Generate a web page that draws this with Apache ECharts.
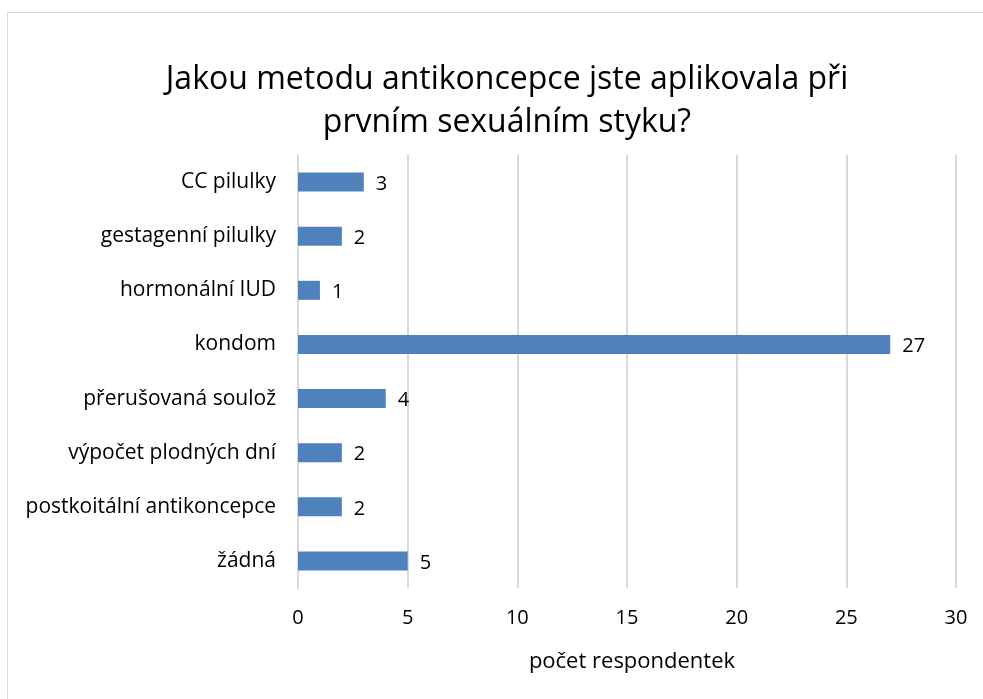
<!DOCTYPE html>
<html>
<head>
<meta charset="utf-8">
<script src="https://cdn.jsdelivr.net/npm/echarts@6/dist/echarts.min.js"></script>
<style>
    html, body { margin: 0; padding: 0; background: #fff; }
    #frame { position: absolute; left: 7px; top: 12px; width: 983px; height: 700px; border: 1px solid #d9d9d9; }
    #mychart { position: absolute; left: 0; top: 0; width: 983px; height: 699px; }
</style>
</head>
<body>
<div id="frame"></div>
<div id="mychart"></div>
<script>
var categories = ['CC pilulky', 'gestagenní pilulky', 'hormonální IUD', 'kondom', 'přerušovaná soulož', 'výpočet plodných dní', 'postkoitální antikoncepce', 'žádná'];
var counts = [3, 2, 1, 27, 4, 2, 2, 5];
var xTicks = [0, 5, 10, 15, 20, 25, 30];

var font = '"Open Sans", sans-serif';
var myChart = echarts.init(document.getElementById('mychart'));
// nahoře první kategorie -> obrátit osu
myChart.setOption({
    animation: false,
    title: [
        {
            text: 'Jakou metodu antikoncepce jste aplikovala při\nprvním sexuálním styku?',
            left: 502,
            top: 53,
            textAlign: 'center',
            textStyle: { fontFamily: font, fontSize: 32, fontWeight: 'normal', color: '#000', lineHeight: 43 }
        },
        {
            text: 'počet respondentek',
            left: 627,
            top: 646,
            textAlign: 'center',
            textStyle: { fontFamily: font, fontSize: 22, fontWeight: 'normal', color: '#000' }
        }
    ],
    grid: { left: 298, right: 27, top: 155, bottom: 111 },
    xAxis: {
        type: 'value',
        min: xTicks[0],
        max: xTicks[xTicks.length - 1],
        interval: 5,
        axisLine: { show: false },
        axisTick: { show: false },
        axisLabel: { margin: 20, fontFamily: font, fontSize: 20, color: '#000' },
        splitLine: { lineStyle: { color: '#d9d9d9', width: 2 } }
    },
    yAxis: {
        type: 'category',
        inverse: true,
        data: categories,
        axisLine: { lineStyle: { color: '#d9d9d9', width: 2 } },
        axisTick: { show: false },
        axisLabel: { margin: 22, fontFamily: font, fontSize: 21, color: '#000' }
    },
    series: [
        {
            type: 'bar',
            data: counts,
            barWidth: 19,
            itemStyle: { color: '#4f81bd' },
            label: { show: true, position: 'right', distance: 12, offset: [0, 2], fontFamily: font, fontSize: 20, color: '#000' }
        }
    ]
});
</script>
</body>
</html>
